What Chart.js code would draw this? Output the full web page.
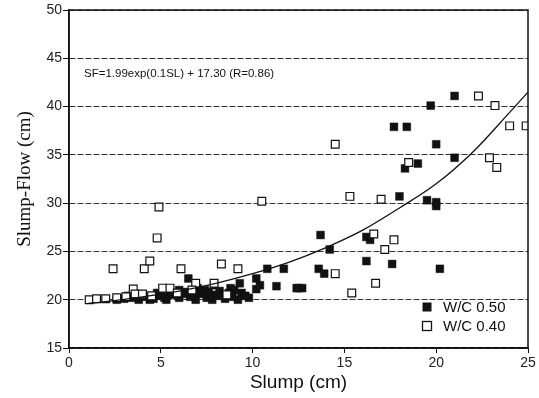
<!DOCTYPE html>
<html>
<head>
<meta charset="utf-8">
<script src="https://cdn.jsdelivr.net/npm/chart.js@4"></script>
<style>
  html, body { margin: 0; padding: 0; background: #fff; }
  #wrap { width: 539px; height: 398px; }
</style>
</head>
<body>
<div id="wrap"><canvas id="chart" width="539" height="398"></canvas></div>
<script>
// W/C 0.50 (filled squares)
const wc50X = [21.0, 19.7, 17.7, 18.4, 20.0, 21.0, 19.0, 18.3, 18.0, 19.5, 20.0, 20.0,
  13.7, 14.2, 16.2, 16.4, 16.2, 17.6, 13.6, 13.9, 20.2, 12.5, 12.7,
  6.5, 10.8, 11.7, 11.3, 12.4, 10.2, 10.2, 9.3, 8.8, 7.9, 8.0, 9.4, 10.4, 9.0,
  2.6, 3.0, 3.4, 3.8, 4.2, 4.6, 4.8, 5.0, 5.3, 5.7, 6.0, 6.0, 6.3, 6.6, 6.9, 7.0,
  7.2, 7.5, 7.8, 8.2, 8.5, 8.9, 9.2, 9.6,
  3.2, 4.0, 5.5, 6.8, 7.4, 8.1, 8.7, 9.8, 4.4, 5.2, 6.2, 7.6];
const wc50Y = [41.1, 40.1, 37.9, 37.9, 36.1, 34.7, 34.1, 33.6, 30.7, 30.3, 30.1, 29.7,
  26.7, 25.2, 26.5, 26.2, 24.0, 23.7, 23.2, 22.7, 23.2, 21.2, 21.2,
  22.2, 23.2, 23.2, 21.4, 21.2, 22.2, 21.1, 21.7, 21.2, 21.5, 20.5, 20.7, 21.5, 21.0,
  20.0, 20.1, 20.2, 20.0, 20.3, 20.1, 20.7, 20.4, 20.0, 20.5, 20.2, 21.0, 20.8, 20.3, 20.0, 21.2,
  20.6, 20.2, 20.0, 20.9, 20.1, 20.3, 20.0, 20.4,
  20.4, 20.5, 20.8, 20.7, 21.0, 20.4, 20.7, 20.2, 20.0, 20.2, 20.6, 20.8];

// W/C 0.40 (open squares)
const wc40X = [22.3, 23.2, 24.0, 24.9, 14.5, 22.9, 23.3, 18.5, 15.3, 17.0, 16.6, 17.7, 17.2,
  14.5, 16.7, 15.4, 10.5, 4.9, 4.8, 2.4, 4.1, 4.4, 6.1, 8.3, 9.2,
  3.5, 5.1, 5.5, 5.9, 6.9, 7.9, 8.6, 6.7,
  1.1, 1.5, 2.0, 2.6, 3.1, 3.6, 4.0, 4.5];
const wc40Y = [41.1, 40.1, 38.0, 38.0, 36.1, 34.7, 33.7, 34.2, 30.7, 30.4, 26.8, 26.2, 25.2,
  22.7, 21.7, 20.7, 30.2, 29.6, 26.4, 23.2, 23.2, 24.0, 23.2, 23.7, 23.2,
  21.1, 21.2, 21.2, 20.7, 21.7, 21.7, 20.5, 21.0,
  20.0, 20.1, 20.1, 20.2, 20.3, 20.6, 20.6, 20.4];

// fitted curve
const curveX = [1, 2, 4, 6, 8, 10, 12, 14, 16, 18, 20, 22, 24, 25];
const curveY = [19.6, 19.8, 20.3, 20.9, 21.7, 22.7, 23.9, 25.4, 27.2, 29.5, 32.0, 35.3, 39.4, 41.5];

const xTicks = [0, 5, 10, 15, 20, 25];
const yTicks = [15, 20, 25, 30, 35, 40, 45, 50];

const legendLabels = ["W/C 0.50", "W/C 0.40"];
const equationText = "SF=1.99exp(0.1SL) + 17.30 (R=0.86)";

function toPoints(xs, ys) {
  return xs.map((x, i) => ({ x: x, y: ys[i] }));
}

const extras = {
  id: "extras",
  afterDraw(chart) {
    const ctx = chart.ctx;
    const a = chart.chartArea;
    ctx.save();

    // frame
    ctx.strokeStyle = "#111";
    ctx.lineWidth = 1.5;
    ctx.strokeRect(a.left, a.top, a.right - a.left, a.bottom - a.top);

    // equation
    ctx.fillStyle = "#111";
    ctx.font = "11.5px 'Liberation Sans', Arial, sans-serif";
    ctx.textBaseline = "middle";
    ctx.fillText(equationText, a.left + 15, a.top + 64);

    // legend
    ctx.font = "15px 'Liberation Sans', Arial, sans-serif";
    const lx = a.left + 358;
    const ly = [a.top + 297, a.top + 316];
    ctx.fillStyle = "#111";
    ctx.fillRect(lx - 4.5, ly[0] - 4.5, 9, 9);
    ctx.fillStyle = "#fff";
    ctx.lineWidth = 1.3;
    ctx.strokeRect(lx - 4.5, ly[1] - 4.5, 9, 9);
    ctx.fillStyle = "#111";
    ctx.fillText(legendLabels[0], lx + 16, ly[0] + 1);
    ctx.fillText(legendLabels[1], lx + 16, ly[1] + 1);

    ctx.restore();
  }
};

new Chart(document.getElementById("chart"), {
  type: "scatter",
  data: {
    datasets: [
      {
        label: legendLabels[1],
        data: toPoints(wc40X, wc40Y),
        pointStyle: "rect",
        pointRadius: 5.5,
        pointBackgroundColor: "#fff",
        pointBorderColor: "#111",
        pointBorderWidth: 1.2,
        order: 1
      },
      {
        label: legendLabels[0],
        data: toPoints(wc50X, wc50Y),
        pointStyle: "rect",
        pointRadius: 5.5,
        pointBackgroundColor: "#111",
        pointBorderColor: "#111",
        pointBorderWidth: 0.5,
        order: 2
      },
      {
        label: "fit",
        data: toPoints(curveX, curveY),
        showLine: true,
        pointRadius: 0,
        borderColor: "#111",
        borderWidth: 1.3,
        cubicInterpolationMode: "monotone",
        order: 0
      }
    ]
  },
  options: {
    responsive: false,
    animation: false,
    layout: { padding: { left: 0, top: 10, right: 11, bottom: 0 } },
    plugins: {
      legend: { display: false },
      tooltip: { enabled: false }
    },
    scales: {
      x: {
        type: "linear",
        min: 0,
        max: 25,
        afterBuildTicks: s => { s.ticks = xTicks.map(v => ({ value: v })); },
        afterFit: s => { s.height = 50; },
        grid: { drawOnChartArea: false, tickLength: 5, color: "#111" },
        border: { color: "#111", width: 1.5 },
        ticks: {
          color: "#222",
          padding: 2,
          maxRotation: 0,
          font: { family: "'Liberation Sans', Arial, sans-serif", size: 14 }
        },
        title: {
          display: true,
          text: "Slump (cm)",
          color: "#111",
          padding: { top: 1 },
          font: { family: "'Liberation Sans', Arial, sans-serif", size: 19 }
        }
      },
      y: {
        type: "linear",
        min: 15,
        max: 50,
        afterBuildTicks: s => { s.ticks = yTicks.map(v => ({ value: v })); },
        afterFit: s => { s.width = 69; },
        grid: {
          color: "#333",
          lineWidth: 1,
          tickLength: 6,
          tickColor: "#111"
        },
        border: { color: "#111", width: 1.5, dash: [6, 2] },
        ticks: {
          color: "#222",
          padding: 1,
          font: { family: "'Liberation Sans', Arial, sans-serif", size: 14 }
        },
        title: {
          display: true,
          text: "Slump-Flow (cm)",
          color: "#111",
          padding: { top: 14, bottom: 0 },
          font: { family: "'Liberation Serif', 'Times New Roman', serif", size: 19 }
        }
      }
    }
  },
  plugins: [extras]
});
</script>
</body>
</html>
